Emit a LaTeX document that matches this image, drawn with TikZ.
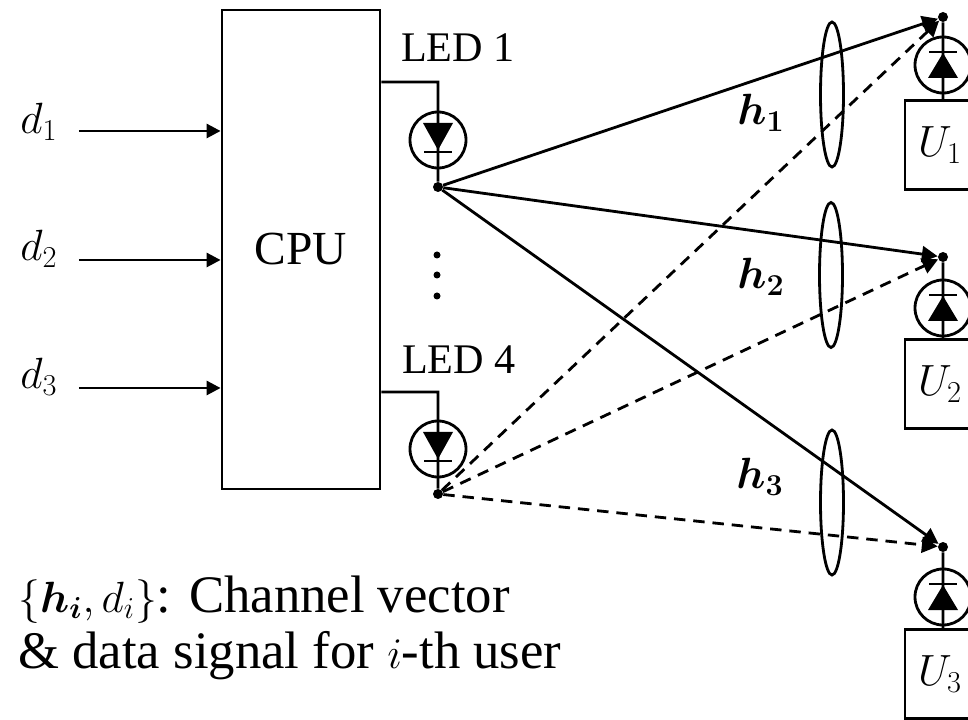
\documentclass[tikz,border=0pt]{standalone}
\usepackage{amsmath}
\usepackage{fontspec}
\setmainfont{Liberation Serif}
\usetikzlibrary{arrows.meta,shapes.geometric}
\tikzset{
  wire/.style={black,line width=1.6pt},
  sigline/.style={wire,-{Triangle[length=9pt,width=9pt]}},
  sigdash/.style={sigline,dash pattern=on 6.5pt off 4.5pt},
  inline/.style={wire,-{Triangle[length=8pt,width=8pt]}},
  bulb/.style={circle,draw,line width=1.6pt,minimum size=1.12cm,inner sep=0pt},
  jdot/.style={circle,fill=black,minimum size=0.2cm,inner sep=0pt},
  smalldot/.style={circle,fill=black,minimum size=0.14cm,inner sep=0pt},
  channel/.style={ellipse,draw,line width=1.6pt,minimum width=0.46cm,minimum height=2.9cm,inner sep=0pt},
  userbox/.style={draw,line width=1.6pt,minimum width=1.4cm,minimum height=1.78cm,inner sep=0pt},
  lbl/.style={font=\fontsize{24}{28}\selectfont,inner sep=0pt},
  biglbl/.style={font=\fontsize{27}{32}\selectfont,inner sep=0pt},
  notelbl/.style={font=\fontsize{30}{34}\selectfont,inner sep=0pt,anchor=base west}
}
\begin{document}
\begin{tikzpicture}[scale=0.2]
\clip (0,0) rectangle (96.8,-72);
\node [draw,line width=1.6pt,minimum width=3.16cm,minimum height=9.58cm,biglbl] (cpu) at (30.1,-24.95) {CPU};
% inputs
\node [biglbl] (d1) at (3.9,-12.2) {$d_1$};
\node [biglbl] (d2) at (3.9,-24.9) {$d_2$};
\node [biglbl] (d3) at (3.9,-37.7) {$d_3$};
\coordinate (in1) at (7.9,-13.1);
\coordinate (in2) at (7.9,-26);
\coordinate (in3) at (7.9,-38.8);
\draw [inline] (in1) -- (in1 -| cpu.west);
\draw [inline] (in2) -- (in2 -| cpu.west);
\draw [inline] (in3) -- (in3 -| cpu.west);
% transmit side
\node [lbl] (led1name) at (45.8,-4.8) {LED 1};
\node [lbl] (led4name) at (45.9,-36) {LED 4};
\node [bulb] (led1) at (43.8,-14) {};
\node [bulb] (led4) at (43.8,-44.9) {};
\node [jdot] (tx1) at (43.8,-18.7) {};
\node [jdot] (tx4) at (43.8,-49.4) {};
\coordinate (bend1) at (43.8,-8.2);
\coordinate (bend4) at (43.8,-39.2);
\draw [wire] (bend1 -| cpu.east) -- (bend1) -- (tx1);
\draw [wire] (bend4 -| cpu.east) -- (bend4) -- (tx4);
\fill [black] (42.3,-12.3) -- (45.3,-12.3) -- (43.8,-15) -- cycle;
\draw [wire] (42.4,-15.2) -- (45.2,-15.2);
\fill [black] (42.3,-43.2) -- (45.3,-43.2) -- (43.8,-45.9) -- cycle;
\draw [wire] (42.4,-46.1) -- (45.2,-46.1);
\node [smalldot] (gap1) at (43.7,-25.5) {};
\node [smalldot] (gap2) at (43.7,-27.5) {};
\node [smalldot] (gap3) at (43.7,-29.6) {};
% receive side
\node [userbox,biglbl] (u1) at (94,-14.5) {\raisebox{-3pt}{$U_1$}};
\node [userbox,biglbl] (u2) at (94,-38.4) {\raisebox{-3pt}{$U_2$}};
\node [userbox,biglbl] (u3) at (94,-67.4) {\raisebox{-3pt}{$U_3$}};
\node [bulb] (pd1) at (94.3,-6.5) {};
\node [bulb] (pd2) at (94.3,-30.8) {};
\node [bulb] (pd3) at (94.3,-59.7) {};
\node [jdot] (rx1) at (94.3,-1.7) {};
\node [jdot] (rx2) at (94.3,-25.7) {};
\node [jdot] (rx3) at (94.3,-54.7) {};
\draw [wire] (rx1) -- (rx1 |- u1.north);
\draw [wire] (rx2) -- (rx2 |- u2.north);
\draw [wire] (rx3) -- (rx3 |- u3.north);
\fill [black] (92.8,-7.8) -- (95.8,-7.8) -- (94.3,-5.3) -- cycle;
\draw [wire] (92.9,-5.2) -- (95.7,-5.2);
\fill [black] (92.8,-32.1) -- (95.8,-32.1) -- (94.3,-29.6) -- cycle;
\draw [wire] (92.9,-29.5) -- (95.7,-29.5);
\fill [black] (92.8,-61) -- (95.8,-61) -- (94.3,-58.5) -- cycle;
\draw [wire] (92.9,-58.4) -- (95.7,-58.4);
% channels
\draw [sigline] (tx1) -- (rx1);
\draw [sigline] (tx1) -- (rx2);
\draw [sigline] (tx1) -- (rx3);
\draw [sigdash] (tx4) -- (rx1);
\draw [sigdash] (tx4) -- (rx2);
\draw [sigdash] (tx4) -- (rx3);
\node [channel] (c1) at (83.2,-9.45) {};
\node [channel] (c2) at (83.1,-27.5) {};
\node [channel] (c3) at (83.2,-50.25) {};
\node [biglbl] (h1) at (76.1,-11.3) {$\boldsymbol{h_1}$};
\node [biglbl] (h2) at (76.1,-27.7) {$\boldsymbol{h_2}$};
\node [biglbl] (h3) at (76,-47.7) {$\boldsymbol{h_3}$};
% legend
\node [notelbl] (note1) at (1.8,-61.2) {{\fontsize{26}{30}\selectfont$\{\boldsymbol{h_i},d_i\}$}: Channel vector};
\node [notelbl] (note2) at (1.8,-66.8) {\& data signal for $i$-th user};
\end{tikzpicture}
\end{document}
